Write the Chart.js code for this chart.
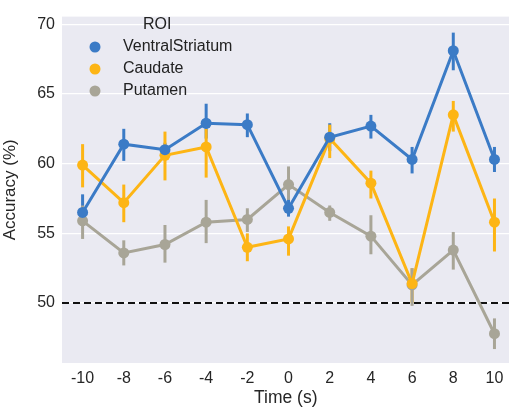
<!DOCTYPE html>
<html>
<head>
<meta charset="utf-8">
<script src="https://cdn.jsdelivr.net/npm/chart.js@4"></script>
<style>
  html, body { margin: 0; padding: 0; background: #fff; overflow: hidden; }
  #wrap { width: 515px; height: 409px; }
</style>
</head>
<body>
<div id="wrap"><canvas id="chart"></canvas></div>
<script>
const times = [-10, -8, -6, -4, -2, 0, 2, 4, 6, 8, 10];
const yTicks = [50, 55, 60, 65, 70];

const ventral = [56.5, 61.4, 61.0, 62.9, 62.8, 56.8, 61.9, 62.7, 60.3, 68.1, 60.3];
const ventralLo = [55.6, 60.2, 60.5, 61.8, 61.9, 56.2, 60.9, 61.8, 59.3, 66.7, 59.4];
const ventralHi = [57.8, 62.5, 61.5, 64.3, 63.6, 57.5, 62.9, 63.5, 61.2, 69.4, 61.2];

const caudate = [59.9, 57.2, 60.6, 61.2, 54.0, 54.6, 61.8, 58.6, 51.4, 63.5, 55.8];
const caudateLo = [58.3, 55.8, 58.8, 59.0, 53.0, 53.4, 60.4, 57.5, 50.0, 62.3, 53.7];
const caudateHi = [61.4, 58.5, 62.3, 62.5, 55.0, 55.5, 62.8, 59.5, 52.5, 64.5, 57.5];

const putamen = [55.9, 53.6, 54.2, 55.8, 56.0, 58.5, 56.5, 54.8, 51.3, 53.8, 47.8];
const putamenLo = [54.6, 52.7, 52.9, 54.3, 55.1, 57.4, 55.9, 53.5, 49.8, 52.4, 46.7];
const putamenHi = [57.0, 54.5, 55.6, 57.4, 56.8, 59.8, 57.0, 56.3, 52.5, 55.1, 48.9];

const chance = 50;
const FONT = "'Liberation Sans', Arial, sans-serif";

function toPoints(vals) {
  return vals.map((v, i) => ({ x: times[i], y: v }));
}

function series(label, vals, lo, hi, color) {
  return {
    label: label,
    data: toPoints(vals),
    errLo: lo,
    errHi: hi,
    borderColor: color,
    backgroundColor: color,
    pointBackgroundColor: color,
    pointBorderWidth: 0,
    borderWidth: 3,
    pointRadius: 5.5,
    tension: 0
  };
}

// background of the plot area (seaborn darkgrid style)
const plotBg = {
  id: "plotBg",
  beforeDraw(chart) {
    const { ctx, chartArea: a } = chart;
    ctx.save();
    ctx.fillStyle = "#eaeaf2";
    ctx.fillRect(a.left, a.top, a.right - a.left, a.bottom - a.top);
    ctx.restore();
  }
};

// error bars + chance line
const extras = {
  id: "extras",
  beforeDatasetsDraw(chart) {
    const { ctx, chartArea: a } = chart;
    const xs = chart.scales.x, ys = chart.scales.y;
    ctx.save();
    ctx.strokeStyle = "#111";
    ctx.lineWidth = 2;
    ctx.setLineDash([7, 4]);
    ctx.beginPath();
    ctx.moveTo(a.left, ys.getPixelForValue(chance));
    ctx.lineTo(a.right, ys.getPixelForValue(chance));
    ctx.stroke();
    ctx.setLineDash([]);
    chart.data.datasets.forEach(ds => {
      ctx.strokeStyle = ds.borderColor;
      ctx.lineWidth = 3;
      ds.data.forEach((p, i) => {
        const x = xs.getPixelForValue(p.x);
        ctx.beginPath();
        ctx.moveTo(x, ys.getPixelForValue(ds.errLo[i]));
        ctx.lineTo(x, ys.getPixelForValue(ds.errHi[i]));
        ctx.stroke();
      });
    });
    ctx.restore();
  }
};

// legend inside plot
const innerLegend = {
  id: "innerLegend",
  afterDraw(chart) {
    const { ctx } = chart;
    ctx.save();
    ctx.font = "16px " + FONT;
    ctx.fillStyle = "#222";
    ctx.textBaseline = "middle";
    ctx.textAlign = "left";
    ctx.fillText("ROI", 143, 25);
    chart.data.datasets.forEach((ds, i) => {
      const y = 47 + i * 22;
      ctx.fillStyle = ds.borderColor;
      ctx.beginPath();
      ctx.arc(95, y, 5.5, 0, Math.PI * 2);
      ctx.fill();
      ctx.fillStyle = "#222";
      ctx.fillText(ds.label, 123, y);
    });
    ctx.restore();
  }
};

new Chart(document.getElementById("chart"), {
  type: "line",
  data: {
    datasets: [
      series("VentralStriatum", ventral, ventralLo, ventralHi, "#3b7bc6"),
      series("Caudate", caudate, caudateLo, caudateHi, "#fdb515"),
      series("Putamen", putamen, putamenLo, putamenHi, "#a8a597")
    ]
  },
  options: {
    responsive: true,
    maintainAspectRatio: false,
    animation: false,
    layout: { padding: { top: 5, right: 0, left: 0, bottom: 0 } },
    plugins: {
      legend: { display: false },
      tooltip: { enabled: false }
    },
    scales: {
      x: {
        type: "linear",
        min: -11,
        max: 10.73,
        afterBuildTicks(axis) {
          axis.ticks = times.map(v => ({ value: v }));
        },
        afterFit(axis) {
          axis.height = 46;
        },
        grid: { display: false, drawTicks: false },
        border: { display: false },
        ticks: {
          color: "#262626",
          font: { size: 16, family: FONT },
          padding: 6
        },
        title: {
          display: true,
          text: "Time (s)",
          color: "#262626",
          font: { size: 17.5, family: FONT },
          padding: { top: 0, bottom: 0 }
        }
      },
      y: {
        min: 45.7,
        max: 70.55,
        afterBuildTicks(axis) {
          axis.ticks = yTicks.map(v => ({ value: v }));
        },
        afterFit(axis) { axis.width = 62; },
        grid: { color: "#ffffff", lineWidth: 1.3, drawTicks: false },
        border: { display: false },
        ticks: {
          color: "#262626",
          font: { size: 16, family: FONT },
          padding: 7
        },
        title: {
          display: true,
          text: "Accuracy (%)",
          color: "#262626",
          font: { size: 17, family: FONT },
          padding: { top: 0, bottom: 2 }
        }
      }
    }
  },
  plugins: [plotBg, extras, innerLegend]
});
</script>
</body>
</html>
